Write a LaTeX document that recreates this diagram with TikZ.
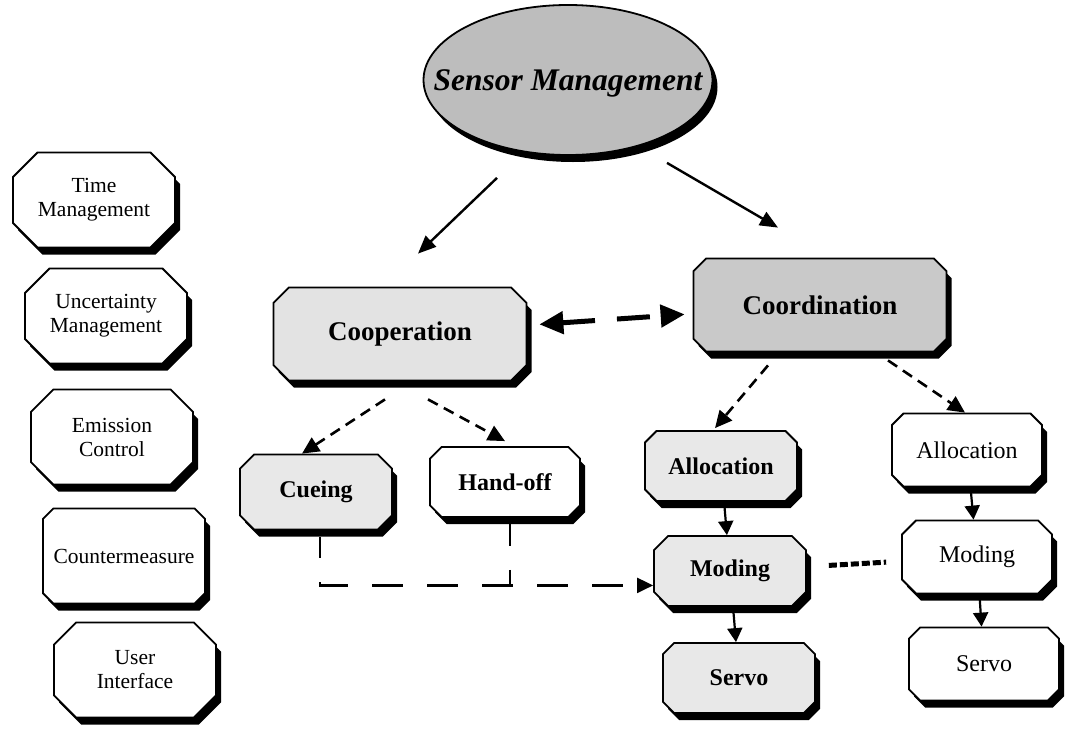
\documentclass[tikz,border=0pt]{standalone}
\usepackage{fontspec}
\setmainfont{Liberation Serif}
\usetikzlibrary{shapes.misc,shapes.geometric,shadows,arrows.meta,calc}

\begin{document}
\begin{tikzpicture}[x=1pt,y=-1pt,
  shade/.style={drop shadow={fill=black,opacity=1,shadow xshift=5pt,shadow yshift=-7pt}},
  octbox/.style={chamfered rectangle,chamfered rectangle xsep=#1,draw=black,line width=1.8pt,
    fill=white,align=center,inner sep=0pt,shade},
  octbox/.default=22pt,
  sidebox/.style={octbox=29pt,minimum width=162pt,minimum height=95pt,
    font=\fontsize{21.5}{24}\selectfont},
  plainbox/.style={octbox=22pt,minimum width=150pt,minimum height=73pt,
    font=\fontsize{24}{27}\selectfont},
  boldbox/.style={octbox=22pt,minimum width=152pt,minimum height=70pt,
    font=\fontsize{24}{27}\selectfont\bfseries,fill=gray!18},
  bigbox/.style={octbox=29pt,minimum width=253pt,minimum height=93pt,
    font=\fontsize{27}{30}\selectfont\bfseries},
  solidarrow/.style={line width=2.4pt,-{Triangle[length=18pt,width=15pt]}},
  colarrow/.style={line width=2.2pt,-{Triangle[length=14pt,width=15pt]}},
  dasharrow/.style={line width=2.6pt,dash pattern=on 11pt off 7pt,-{Triangle[length=17pt,width=16pt]}},
  linkline/.style={line width=2.2pt,dash pattern=on 31pt off 24pt},
  dblarrow/.style={line width=5pt,dash pattern=on 33pt off 22pt,
    {Triangle[length=24pt,width=22pt]}-{Triangle[length=24pt,width=22pt]}},
  peerline/.style={line width=5pt,dash pattern=on 8pt off 3pt}
]
\fill[white] (0,0) rectangle (1065,728);
\useasboundingbox (0,0) rectangle (1065,728);

% top ellipse with its title set on top
\node[ellipse,draw=black,line width=1.8pt,fill=gray!52,minimum width=289pt,minimum height=150pt,
  inner sep=0pt,shade] (sensor) at (568,80) {};
\node[font=\fontsize{31.5}{34}\selectfont\bfseries\itshape,inner sep=0pt] (sensortitle)
  at ($(sensor.center)+(0,3)$) {Sensor Management};

% left column of functions
\node[sidebox] (time) at (94,200) {Time\\Management};
\node[sidebox] (uncert) at (106,316) {Uncertainty\\Management};
\node[sidebox] (emission) at (112,437) {Emission\\Control};
\node[sidebox] (counter) at (124,556) {Countermeasure};
\node[sidebox] (user) at (135,670) {User\\Interface};

% main branches
\node[bigbox,fill=gray!22] (cooperation) at (400,334) {Cooperation};
\node[bigbox,fill=gray!42] (coordination) at (820,305) {Coordination};

% cooperation children
\node[boldbox,minimum height=75pt] (cueing) at (316,492) {Cueing};
\node[plainbox,minimum height=70pt,font=\fontsize{24}{27}\selectfont\bfseries] (handoff) at (505,482) {Hand-off};

% coordination, first chain
\node[boldbox] (alloc1) at (721,466) {Allocation};
\node[boldbox] (moding1) at (730,571) {Moding};
\node[boldbox] (servo1) at (739,678) {Servo};

% coordination, second chain
\node[plainbox] (alloc2) at (967,450) {Allocation};
\node[plainbox] (moding2) at (977,557) {Moding};
\node[plainbox] (servo2) at (984,664) {Servo};

% arrows from the top ellipse
\coordinate (e1s) at ($(sensor.south)+(-71,22)$);
\coordinate (e1e) at ($(cooperation.north)+(18,-33)$);
\coordinate (e2s) at ($(sensor.south)+(99,7)$);
\coordinate (e2e) at ($(coordination.north)+(-42,-30)$);
\draw[solidarrow] (e1s) -- (e1e);
\draw[solidarrow] (e2s) -- (e2e);

% cooperation <-> coordination
\draw[dblarrow,shorten <=12pt,shorten >=8pt] (cooperation) -- (coordination);

% dashed branches
\draw[dasharrow] ($(cooperation.south)+(-15,18)$) -- ($(cueing.north)+(-14,0)$);
\draw[dasharrow] ($(cooperation.south)+(28,18)$) -- ($(handoff.north)+(0,-5)$);
\draw[dasharrow] ($(coordination.south)+(-52,13)$) -- ($(alloc1.north)+(-6,-2)$);
\draw[dasharrow] ($(coordination.south)+(68,8)$) -- ($(alloc2.north)+(-2,0)$);

% chains
\draw[colarrow] (alloc1) -- (moding1);
\draw[colarrow] (moding1) -- (servo1);
\draw[colarrow] (alloc2) -- (moding2);
\draw[colarrow] (moding2) -- (servo2);

% link between the two moding boxes
\draw[peerline,shorten <=22pt,shorten >=15pt] (moding1) -- (moding2);

% cueing / hand-off feed into moding
\coordinate (c0) at ($(cueing.south)+(4,7)$);
\coordinate (c1) at ($(cueing.south)+(4,55)$);
\coordinate (h0) at ($(handoff.south)+(5,3)$);
\draw[linkline,dash phase=10pt,-{Triangle[length=16pt,width=15pt]}] (c0) -- (c1) -- (c1 -| moding1.west);
\draw[linkline,dash phase=6pt] (h0) -- (h0 |- c1);
\end{tikzpicture}
\end{document}
